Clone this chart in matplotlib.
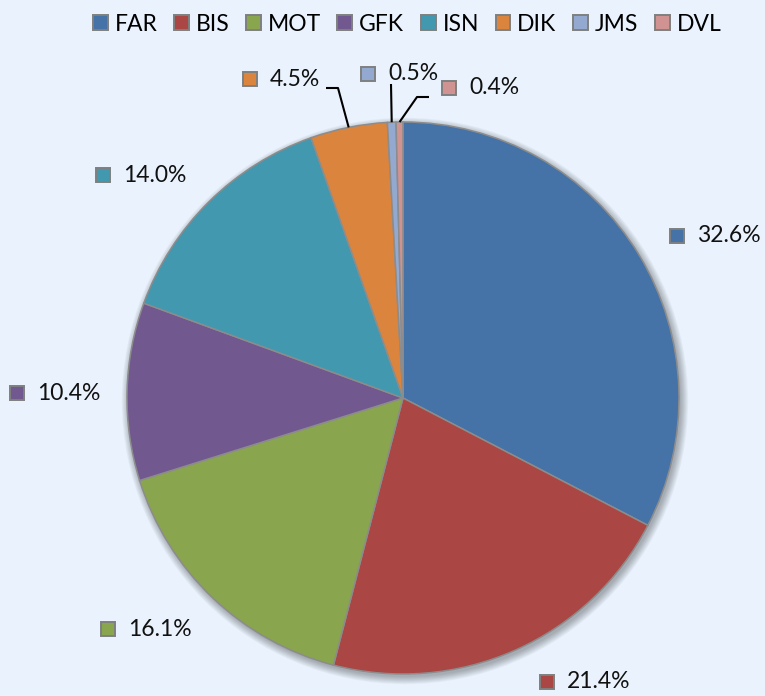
import numpy as np
import matplotlib
matplotlib.use("Agg")
import matplotlib.pyplot as plt
from matplotlib.patches import Patch, Circle

# data
names = ["FAR", "BIS", "MOT", "GFK", "ISN", "DIK", "JMS", "DVL"]
shares = [32.6, 21.4, 16.1, 10.4, 14.0, 4.5, 0.5, 0.4]
colors = ["#4572A7", "#AA4643", "#89A54E", "#71588F",
          "#4198AF", "#DB843D", "#93A9CF", "#D19392"]

W, H = 765, 696
bg = "#EAF3FD"
plt.rcParams['font.family'] = ['Lato', 'DejaVu Sans']
fs = 16.5

# label marker centres, screen pixels (y down)
label_pos = [(677, 236), (547, 682), (108, 629), (17, 393),
             (103, 175), (250, 79), (368, 74), (449, 88)]
# leader line elbows for the thin slices (screen pixels)
leaders = {5: [(326, 88), (338, 88)], 6: [(391, 84)], 7: [(429, 97), (417, 97)]}

fig = plt.figure(figsize=(W / 100, H / 100), dpi=100, facecolor=bg)
ax = fig.add_axes([0, 0, 1, 1])
ax.set_facecolor(bg)

cx, cy, r = 403, H - 398, 276

# soft shadow
for i in range(9):
    ax.add_patch(Circle((cx + 2, cy - 3), r + i * 0.9, color="k", alpha=0.035,
                        lw=0, zorder=0))

wedges, _ = ax.pie(shares, colors=colors, startangle=90, counterclock=False,
                   center=(cx, cy), radius=r,
                   wedgeprops=dict(edgecolor="#8c8c8c", linewidth=1.1))
for w in wedges:
    w.set_zorder(2)

for i, (v, c) in enumerate(zip(shares, colors)):
    mx, my = label_pos[i]
    ax.plot(mx, H - my, marker="s", ms=10.5, mfc=c, mec="#7f7f7f", mew=1.4,
            zorder=4)
    ax.text(mx + 20, H - my, f"{v:.1f}%", fontsize=fs, va="center", ha="left",
            color="#111111", zorder=4)
    if i in leaders:
        w = wedges[i]
        mid = np.deg2rad((w.theta1 + w.theta2) / 2)
        pts = [(x, H - y) for x, y in leaders[i]]
        pts.append((cx + r * np.cos(mid), cy + r * np.sin(mid)))
        xs, ys = zip(*pts)
        ax.plot(xs, ys, color="black", lw=1.5, zorder=3, solid_capstyle="butt")

ax.set_xlim(0, W)
ax.set_ylim(0, H)
ax.set_aspect("equal")
ax.axis("off")

handles = [Patch(facecolor=c, edgecolor="#7f7f7f", linewidth=1.4) for c in colors]
fig.legend(handles, names, loc="upper center", bbox_to_anchor=(407 / W, 1.0),
           ncol=8, frameon=False, fontsize=fs, handlelength=0.65, handleheight=0.65,
           handletextpad=0.3, columnspacing=0.72, borderpad=0.1)

fig.savefig("out.png", dpi=100, facecolor=bg)
